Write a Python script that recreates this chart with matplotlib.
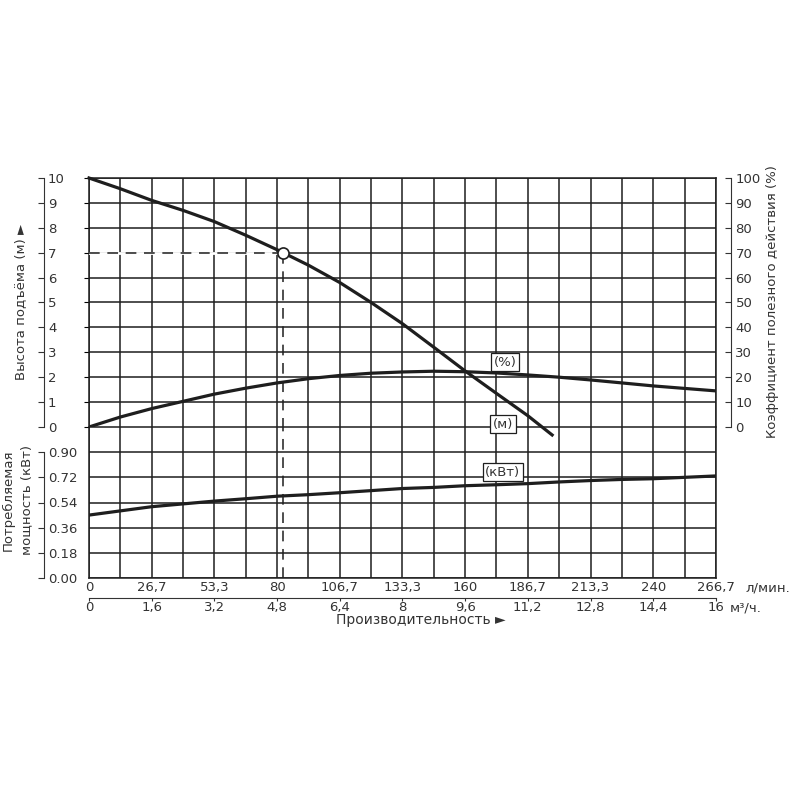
import matplotlib.pyplot as plt
from matplotlib.ticker import MultipleLocator

plt.rcParams['font.family'] = ['DejaVu Sans']

# pump curves, flow in l/min
q_head = [0, 13.3, 26.7, 40, 53.3, 66.7, 80, 93.3, 106.7, 120, 133.3, 146.7, 160, 173.3, 186.7, 197]
head = [10, 9.57, 9.1, 8.7, 8.25, 7.7, 7.12, 6.5, 5.8, 5.0, 4.15, 3.2, 2.25, 1.35, 0.45, -0.32]

q_full = [0, 13.3, 26.7, 40, 53.3, 66.7, 80, 93.3, 106.7, 120, 133.3, 146.7, 160, 173.3,
          186.7, 200, 213.3, 226.7, 240, 253.3, 266.7]
eff = [0, 4.0, 7.4, 10.3, 13.2, 15.6, 17.7, 19.4, 20.7, 21.6, 22.1, 22.4, 22.2, 21.7,
       20.9, 20.0, 18.9, 17.7, 16.5, 15.5, 14.5]
power = [0.45, 0.48, 0.51, 0.53, 0.55, 0.567, 0.585, 0.596, 0.61, 0.625, 0.64, 0.648, 0.66,
         0.667, 0.675, 0.687, 0.697, 0.705, 0.71, 0.72, 0.73]

# operating point
q_op, h_op = 82.5, 7.0

lpm_ticks = [0, 26.7, 53.3, 80, 106.7, 133.3, 160, 186.7, 213.3, 240, 266.7]
lpm_labels = ["0", "26,7", "53,3", "80", "106,7", "133,3", "160", "186,7", "213,3", "240", "266,7"]
m3h_ticks = [0, 1.6, 3.2, 4.8, 6.4, 8, 9.6, 11.2, 12.8, 14.4, 16]
m3h_labels = ["0", "1,6", "3,2", "4,8", "6,4", "8", "9,6", "11,2", "12,8", "14,4", "16"]
head_ticks = list(range(11))
eff_ticks = list(range(0, 101, 10))
power_ticks = [0, 0.18, 0.36, 0.54, 0.72, 0.90]
power_labels = ["0.00", "0.18", "0.36", "0.54", "0.72", "0.90"]

INK = "#1e1e1e"
TXT = "#333333"
FS = 9.5
LFS = 9.5

fig = plt.figure(figsize=(8, 8), dpi=100)
ax_p = fig.add_axes([0.11125, 0.2775, 0.78375, 0.18875])
ax_h = fig.add_axes([0.11125, 0.46625, 0.78375, 0.31125])
ax_p.set_zorder(1)
ax_h.set_zorder(2)
ax_h.patch.set_visible(False)

for ax in (ax_h, ax_p):
    ax.set_xlim(0, 266.7)
    ax.set_xticks(lpm_ticks)
    ax.xaxis.set_minor_locator(MultipleLocator(40 / 3))
    ax.xaxis.remove_overlapping_locs = False
    ax.grid(True, which='minor', axis='x', color=INK, lw=1.1)
    ax.grid(True, which='major', axis='y', color=INK, lw=1.1)
    ax.set_axisbelow(True)
    for s in ax.spines.values():
        s.set_color(INK)
        s.set_linewidth(1.1)
    ax.tick_params(which='both', left=False, labelleft=False, bottom=False, labelbottom=False)
ax_h.spines['bottom'].set_visible(False)
ax_p.spines['top'].set_visible(False)

ax_h.set_ylim(0, 10)
ax_h.yaxis.set_major_locator(MultipleLocator(1))
ax_p.set_ylim(0, 1.08)
ax_p.yaxis.set_major_locator(MultipleLocator(0.18))

# curves
ax_h.plot(q_head, head, color=INK, lw=2.3, clip_on=False, zorder=4)
ax_p.plot(q_full, power, color=INK, lw=2.3, zorder=4)

ax_e = ax_h.twinx()
ax_e.set_zorder(3)
ax_e.set_ylim(0, 100)
ax_e.plot(q_full, eff, color=INK, lw=2.3, zorder=4)
for side in ('top', 'bottom', 'left'):
    ax_e.spines[side].set_visible(False)
ax_e.spines['right'].set_position(('outward', 11))
ax_e.spines['right'].set_color(TXT)
ax_e.set_yticks(eff_ticks)
ax_e.tick_params(axis='y', direction='in', length=4, pad=3, colors=TXT, labelsize=FS)

# operating point with dashed guides
ax_h.plot([0, q_op], [h_op, h_op], color='white', lw=2, zorder=3)
ax_h.plot([0, q_op], [h_op, h_op], color=INK, lw=1.1, ls=(0, (7, 5)), zorder=3)
ax_h.plot([q_op, q_op], [h_op, 0], color=INK, lw=1.1, ls=(0, (7, 5)), zorder=3)
ax_p.axvline(q_op, color=INK, lw=1.1, ls=(0, (7, 5)), zorder=3)
ax_h.plot(q_op, h_op, 'o', mfc='white', mec=INK, mew=1.2, ms=8, zorder=6)

# curve tags
box = dict(boxstyle='square,pad=0.2', fc='white', ec=INK, lw=0.9)
ax_e.text(177, 26, "(%)", ha='center', va='center', fontsize=FS, color=TXT, bbox=box, zorder=7)
ax_h.text(176, 0.12, "(м)", ha='center', va='center', fontsize=FS, color=TXT, bbox=box, zorder=7)
ax_p.text(176, 0.756, "(кВт)", ha='center', va='center', fontsize=FS, color=TXT, bbox=box, zorder=7)

# left bracket axes
sec_h = ax_h.secondary_yaxis(-0.072)
sec_h.set_yticks(head_ticks)
sec_p = ax_p.secondary_yaxis(-0.072)
sec_p.set_yticks(power_ticks, power_labels)
sec_p.spines['left'].set_bounds(0, 0.9)
for sec in (sec_h, sec_p):
    sec.spines['left'].set_color(TXT)
    sec.tick_params(axis='y', left=False, labelleft=False, right=True, labelright=True,
                    direction='in', length=4, pad=3, colors=TXT, labelsize=FS)

# flow axes
ax_p.tick_params(axis='x', which='major', labelbottom=True, length=0, pad=2.5, colors=TXT, labelsize=FS)
ax_p.set_xticks(lpm_ticks, lpm_labels)
sec_x = ax_p.secondary_xaxis(-0.1325, functions=(lambda q: q * 0.06, lambda m: m / 0.06))
sec_x.set_xticks(m3h_ticks, m3h_labels)
sec_x.spines['bottom'].set_color(TXT)
sec_x.tick_params(axis='x', direction='out', length=2, pad=0.5, colors=TXT, labelsize=FS)

ax_p.annotate("л/мин.", xy=(lpm_ticks[-1], 0), xycoords=('data', 'axes fraction'),
              xytext=(21, -2.5), textcoords='offset points', ha='left', va='top',
              fontsize=FS, color=TXT)
ax_p.annotate("м³/ч.", xy=(lpm_ticks[-1], -0.1325), xycoords=('data', 'axes fraction'),
              xytext=(10, -2.5), textcoords='offset points', ha='left', va='top',
              fontsize=FS, color=TXT)

fig.text(0.526, 0.225, "Производительность ►", ha='center', va='center', fontsize=LFS + 0.5, color=TXT)
fig.text(0.026, 0.6225, "Высота подъёма (м) ►", rotation=90, ha='center', va='center',
         fontsize=LFS, color=TXT)
fig.text(0.022, 0.375, "Потребляемая\nмощность (кВт)", rotation=90, ha='center', va='center',
         fontsize=LFS, color=TXT, linespacing=1.5)
fig.text(0.966, 0.6225, "Коэффициент полезного действия (%)", rotation=90, ha='center',
         va='center', fontsize=LFS, color=TXT)

fig.savefig("out.png", dpi=100)
